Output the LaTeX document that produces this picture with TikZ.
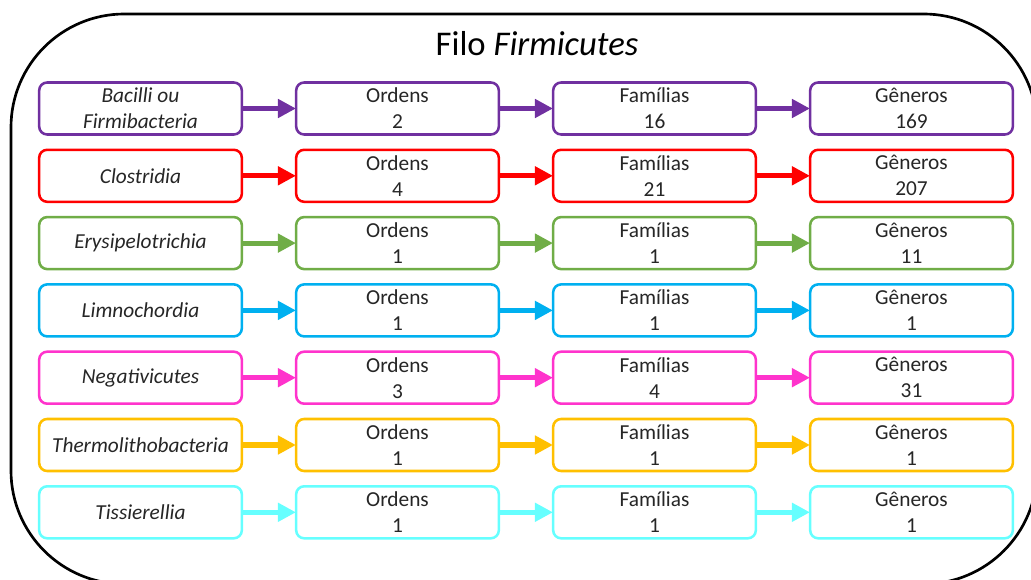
\documentclass[tikz,border=0pt]{standalone}
\usepackage{fontspec}
\setmainfont{Carlito}
\usetikzlibrary{arrows.meta}
\definecolor{cpurple}{HTML}{7030A0}
\definecolor{cred}{HTML}{FF0000}
\definecolor{cgreen}{HTML}{70AD47}
\definecolor{cblue}{HTML}{00B0F0}
\definecolor{cmagenta}{HTML}{FF33CC}
\definecolor{corange}{HTML}{FFC000}
\definecolor{ccyan}{HTML}{66FFFF}
\definecolor{ctext}{HTML}{262626}
\begin{document}
\begin{tikzpicture}[x=0.75pt,y=-0.75pt,
  box/.style={draw=#1, line width=1.9pt, rounded corners=6pt, minimum width=152pt, minimum height=39pt, inner sep=0pt, align=center, text=ctext, font=\fontsize{16}{19.5}\selectfont, fill=white},
  ibox/.style={box=#1, font=\fontsize{16}{19.5}\selectfont\itshape},
  conn/.style={draw=#1, line width=3.8pt, -{Triangle[length=13.5pt,width=13.5pt]}, shorten >=-0.8pt}
]
\useasboundingbox (0,0) rectangle (1031,580);
\clip (0,0) rectangle (1031,580);
\draw[line width=2pt, rounded corners=85pt] (11,14) rectangle (1037,584);
\node[font=\fontsize{26}{30}\selectfont, text=black] (title) at (537,44) {Filo \textit{Firmicutes}};
\foreach \i/\col/\cls/\o/\f/\g in {
  0/cpurple/{Bacilli ou\\Firmibacteria}/2/16/169,
  1/cred/Clostridia/4/21/207,
  2/cgreen/Erysipelotrichia/1/1/11,
  3/cblue/Limnochordia/1/1/1,
  4/cmagenta/Negativicutes/3/4/31,
  5/corange/Thermolithobacteria/1/1/1,
  6/ccyan/Tissierellia/1/1/1}{
  \pgfmathsetmacro{\yy}{108.5+67.3*\i}
  \node[ibox=\col] (c\i) at (140.5,\yy) {\cls};
  \node[box=\col] (o\i) at (397.5,\yy) {Ordens\\\o};
  \node[box=\col] (f\i) at (654.5,\yy) {Famílias\\\f};
  \node[box=\col] (g\i) at (911.5,\yy) {Gêneros\\\g};
  \draw[conn=\col] (c\i) -- (o\i);
  \draw[conn=\col] (o\i) -- (f\i);
  \draw[conn=\col] (f\i) -- (g\i);
}
\end{tikzpicture}
\end{document}
